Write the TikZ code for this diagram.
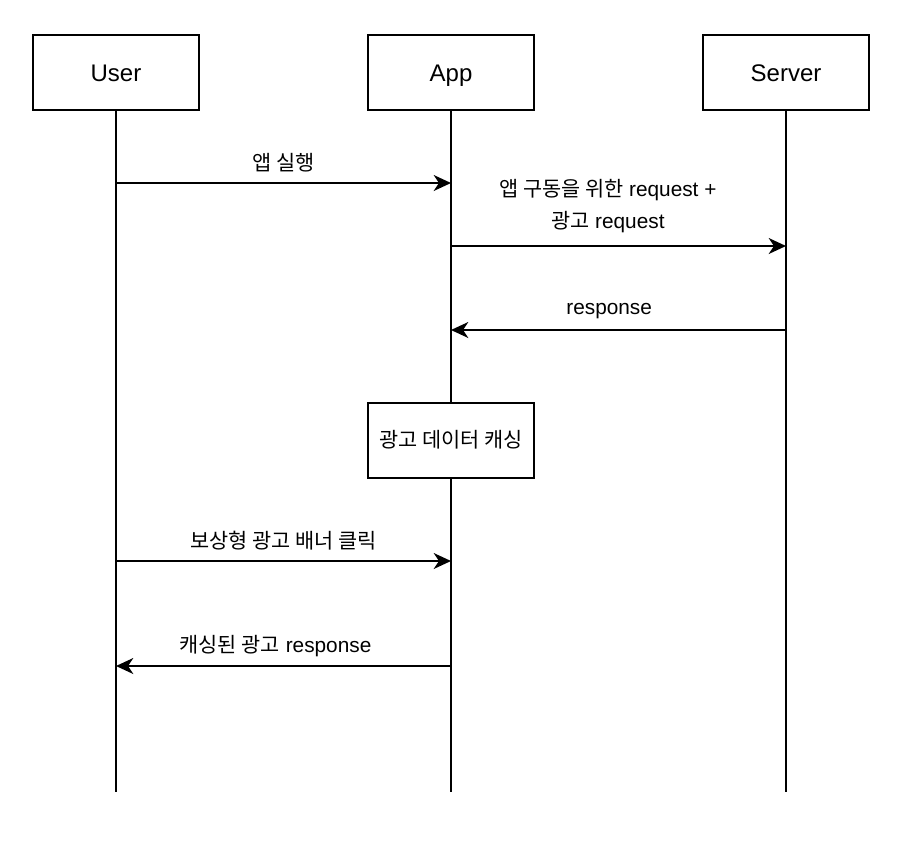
\documentclass[tikz,border=0pt]{standalone}
\usepackage{fontspec}
\setmainfont{Liberation Sans}
\newfontfamily\kr{Noto Sans CJK KR}
\usetikzlibrary{arrows.meta}

\begin{document}
\begin{tikzpicture}[x=0.75pt, y=-0.75pt,
  actor/.style={draw, line width=1.1pt, minimum width=124.5pt, minimum height=56.25pt,
    inner sep=0pt, text height=13pt, text depth=0pt, font=\fontsize{18}{22}\selectfont},
  life/.style={line width=1.1pt},
  msg/.style={line width=1.1pt, -{Stealth[length=13pt, width=12pt, inset=4pt]}},
  lbl/.style={font=\fontsize{15.6}{24}\selectfont, align=center}]
  \useasboundingbox (0, 0) rectangle (900, 840);

  % actors
  \node[actor] (user) at (116, 72.5) {User};
  \node[actor] (app) at (451, 72.5) {App};
  \node[actor] (server) at (786, 72.5) {Server};
  \node[actor, text height=11pt, text depth=1pt, font=\fontsize{15.6}{24}\selectfont]
    (cache) at (451, 440.5) {\kr 광고 데이터 캐싱};

  % lifeline ends
  \coordinate (userEnd) at (116, 792);
  \coordinate (appEnd) at (451, 792);
  \coordinate (serverEnd) at (786, 792);

  \draw[life] (user) -- (userEnd);
  \draw[life] (app) -- (cache);
  \draw[life] (cache) -- (appEnd);
  \draw[life] (server) -- (serverEnd);

  % message points
  \coordinate (u1) at (116, 183);  \coordinate (a1) at (451, 183);
  \coordinate (a2) at (451, 246);  \coordinate (s2) at (786, 246);
  \coordinate (s3) at (786, 330);  \coordinate (a3) at (451, 330);
  \coordinate (u4) at (116, 561);  \coordinate (a4) at (451, 561);
  \coordinate (a5) at (451, 666);  \coordinate (u5) at (116, 666);

  \draw[msg] (u1) -- (a1) node[lbl, midway, yshift=15pt] {\kr 앱 실행};
  \draw[msg] (a2) -- (s2) node[lbl, midway, yshift=30pt, xshift=-8pt]
    {{\kr 앱 구동을 위한} request +\\{\kr 광고} request};
  \draw[msg] (s3) -- (a3) node[lbl, midway, yshift=14pt, xshift=-7pt] {response};
  \draw[msg] (u4) -- (a4) node[lbl, midway, yshift=15pt] {\kr 보상형 광고 배너 클릭};
  \draw[msg] (a5) -- (u5) node[lbl, midway, yshift=15pt, xshift=-6pt] {{\kr 캐싱된 광고} response};
\end{tikzpicture}
\end{document}
